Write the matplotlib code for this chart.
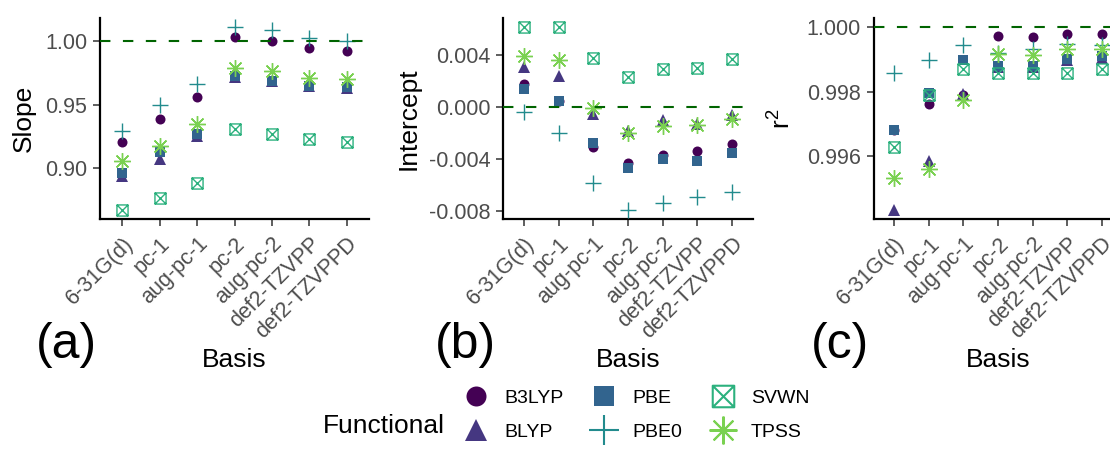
import numpy as np
import matplotlib

matplotlib.use("Agg")
import matplotlib.pyplot as plt
from matplotlib.lines import Line2D
from matplotlib.path import Path
from matplotlib.transforms import ScaledTranslation

BASES = ["6-31G(d)", "pc-1", "aug-pc-1", "pc-2", "aug-pc-2", "def2-TZVPP", "def2-TZVPPD"]
FUNCTIONALS = ["B3LYP", "BLYP", "PBE", "PBE0", "SVWN", "TPSS"]

# rows follow FUNCTIONALS, columns follow BASES
SLOPE = [
    [0.920, 0.9386, 0.9559, 1.0037, 1.0005, 0.9945, 0.9927],
    [0.8935, 0.907, 0.925, 0.9717, 0.9683, 0.9643, 0.963],
    [0.8955, 0.9126, 0.927, 0.9727, 0.969, 0.965, 0.9638],
    [0.929, 0.950, 0.9664, 1.011, 1.0089, 1.003, 1.0005],
    [0.8667, 0.8759, 0.888, 0.9304, 0.927, 0.9226, 0.920],
    [0.9055, 0.9173, 0.9344, 0.9787, 0.9769, 0.9711, 0.970],
]
INTERCEPT = [
    [0.00173, 0.0005, -0.00305, -0.00432, -0.00369, -0.00338, -0.0028],
    [0.00305, 0.00239, -0.00056, -0.00183, -0.00102, -0.00132, -0.00058],
    [0.00135, 0.00043, -0.00275, -0.0047, -0.00402, -0.00414, -0.00356],
    [-0.00038, -0.00196, -0.0058, -0.00788, -0.00737, -0.00687, -0.00648],
    [0.0061, 0.0061, 0.00379, 0.00231, 0.0029, 0.00298, 0.00366],
    [0.00389, 0.00361, -0.00008, -0.00196, -0.00147, -0.0014, -0.00089],
]
R2 = [
    [0.99683, 0.99762, 0.99790, 0.99972, 0.99970, 0.99981, 0.99981],
    [0.99434, 0.99585, 0.99795, 0.99878, 0.99876, 0.99900, 0.99905],
    [0.99682, 0.99798, 0.99900, 0.99881, 0.99879, 0.99902, 0.99910],
    [0.99859, 0.99900, 0.99946, 0.99920, 0.99933, 0.99949, 0.99945],
    [0.99630, 0.99791, 0.99871, 0.99859, 0.99859, 0.99860, 0.99871],
    [0.99533, 0.99561, 0.99775, 0.99919, 0.99914, 0.99933, 0.99933],
]

W, H = 1110, 453

plt.rcParams["font.family"] = ["Liberation Sans", "DejaVu Sans"]
plt.rcParams["mathtext.default"] = "regular"

colors = plt.cm.viridis(np.linspace(0, 0.8, len(FUNCTIONALS)))

# square with a cross inside
box_x = Path(
    [(-1, -1), (1, -1), (1, 1), (-1, 1), (-1, -1), (-1, -1), (1, 1), (-1, 1), (1, -1)],
    [Path.MOVETO, Path.LINETO, Path.LINETO, Path.LINETO, Path.CLOSEPOLY,
     Path.MOVETO, Path.LINETO, Path.MOVETO, Path.LINETO],
)

STYLES = [
    dict(marker="o", ms=7.2, mew=0),
    dict(marker="^", ms=8.6, mew=0),
    dict(marker="s", ms=7.9, mew=0),
    dict(marker="+", ms=11.5, mew=1.0),
    dict(marker=box_x, ms=8.0, mew=1.0, mfc="none"),
    dict(marker=(8, 2, 0), ms=12, mew=1.0),
]
LEGEND_MS = [14.4, 16.0, 14.4, 21.0, 15.5, 20.0]


def px_rect(left, top, right, bottom):
    return [left / W, 1 - bottom / H, (right - left) / W, (bottom - top) / H]


def draw_panel(ax, values, ref, ylabel, yticks, yticklabels, ylabel_x):
    x = np.arange(len(BASES))
    for vals, color, st in zip(values, colors, STYLES):
        ax.plot(x, vals, ls="none", color=color, zorder=3, **st)
    ax.axhline(ref, color="#006400", lw=1.5, dashes=(5, 6), zorder=4)

    allv = np.concatenate([np.ravel(values), [ref]])
    lo, hi = allv.min(), allv.max()
    pad = 0.05 * (hi - lo)
    ax.set_ylim(lo - pad, hi + pad)
    ax.set_xlim(-0.6, len(BASES) - 0.4)

    ax.set_yticks(yticks, yticklabels)
    ax.set_xticks(x, BASES, rotation=45, ha="right", va="top", rotation_mode="anchor")
    shift = ScaledTranslation(4.5 / 100, 0, fig.dpi_scale_trans)
    for lab in ax.get_xticklabels():
        lab.set_transform(lab.get_transform() + shift)

    for side in ("top", "right"):
        ax.spines[side].set_visible(False)
    for side in ("left", "bottom"):
        ax.spines[side].set_linewidth(1.6)
    ax.tick_params(length=5, width=1.1, color="#333333", labelcolor="#4D4D4D",
                   labelsize=15.5)
    ax.tick_params(axis="y", pad=4)
    ax.tick_params(axis="x", pad=5.2)

    ax.set_ylabel(ylabel, fontsize=19, va="center")
    ax.yaxis.set_label_coords(ylabel_x, 0.5)
    ax.set_xlabel("Basis", fontsize=19, va="baseline")
    ax.xaxis.set_label_coords(0.5, -0.735)


fig = plt.figure(figsize=(W / 100, H / 100), dpi=100)

ax_a = fig.add_axes(px_rect(100, 18.3, 369, 219))
ax_b = fig.add_axes(px_rect(503.2, 18.3, 753, 219))
ax_c = fig.add_axes(px_rect(873.5, 18.3, 1122.5, 219))

draw_panel(ax_a, SLOPE, 1.0, "Slope",
           [0.90, 0.95, 1.00], ["0.90", "0.95", "1.00"], -0.283)
draw_panel(ax_b, INTERCEPT, 0.0, "Intercept",
           [-0.008, -0.004, 0.0, 0.004], ["-0.008", "-0.004", "0.000", "0.004"], -0.379)
draw_panel(ax_c, R2, 1.0, "r$^2$",
           [0.996, 0.998, 1.000], ["0.996", "0.998", "1.000"], -0.367)

for cx, letter in [(66.5, "(a)"), (465, "(b)"), (840, "(c)")]:
    fig.text(cx / W, 1 - 345 / H, letter, fontsize=36, ha="center", va="center")

# legend at the bottom, title on the left
handles = []
for color, st, ms in zip(colors, STYLES, LEGEND_MS):
    big = dict(st, ms=ms, mew=st["mew"] * 1.5)
    handles.append(Line2D([], [], ls="none", color=color, **big))
fig.legend(handles, FUNCTIONALS, ncol=3, loc="upper left",
           bbox_to_anchor=(466 / W, 1 - 389 / H), frameon=False, fontsize=14,
           handlelength=1.0, handletextpad=0.95, columnspacing=1.6,
           labelspacing=0.86, borderpad=0, borderaxespad=0)
fig.text(323 / W, 1 - 433 / H, "Functional", fontsize=19, ha="left", va="baseline")

fig.savefig("out.png", dpi=100)
